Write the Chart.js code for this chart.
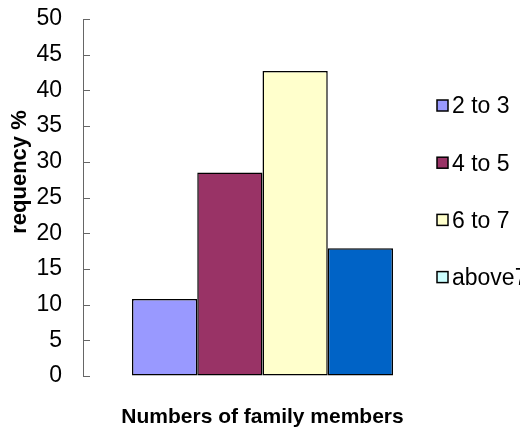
<!DOCTYPE html>
<html>
<head>
<meta charset="utf-8">
<script src="https://cdn.jsdelivr.net/npm/chart.js@4/dist/chart.umd.min.js"></script>
<style>
  html, body { margin: 0; padding: 0; background: #fff; }
  #wrap { width: 520px; height: 430px; }
</style>
</head>
<body>
<div id="wrap"><canvas id="famChart" width="520" height="430"></canvas></div>
<script>
// family size groups and their share of households (%)
const groups = ['2 to 3', '4 to 5', '6 to 7', 'above7'];
const frequency = [10.8, 28.5, 42.7, 17.9];
const barColors = ['#9999FF', '#993366', '#FFFFCC', '#0063C6'];
const keyColors = ['#9999FF', '#993366', '#FFFFCC', '#CCFFFF'];
const yMin = 0, yMax = 50, yStep = 5;
const yTitle = 'requency %';
const xTitle = 'Numbers of family members';

const FONT = '"Liberation Sans", Arial, sans-serif';

// short tick marks pointing into the plot, right of the axis line
const innerTicks = {
    id: 'innerTicks',
    afterDraw(chart) {
        const y = chart.scales.y;
        const ctx = chart.ctx;
        ctx.save();
        ctx.strokeStyle = '#666';
        ctx.lineWidth = 1;
        y.ticks.forEach((t, i) => {
            const py = Math.round(y.getPixelForTick(i)) + 0.5;
            ctx.beginPath();
            ctx.moveTo(y.right, py);
            ctx.lineTo(y.right + 7, py);
            ctx.stroke();
        });
        ctx.restore();
    }
};

// rotated y title, sitting a bit above the middle of the axis
const sideTitle = {
    id: 'sideTitle',
    afterDraw(chart) {
        const ctx = chart.ctx;
        ctx.save();
        ctx.translate(20, 172);
        ctx.rotate(-Math.PI / 2);
        ctx.font = 'bold 22px ' + FONT;
        ctx.fillStyle = '#000';
        ctx.textAlign = 'center';
        ctx.textBaseline = 'middle';
        ctx.fillText(yTitle, 0, 0);
        ctx.restore();
    }
};

// key on the right: small bordered squares + group names
const sideKey = {
    id: 'sideKey',
    afterDraw(chart) {
        const ctx = chart.ctx;
        const x0 = chart.chartArea.right - 5;
        ctx.save();
        ctx.font = '23px ' + FONT;
        ctx.textBaseline = 'middle';
        groups.forEach((g, i) => {
            const cy = 106 + i * 57.2;
            ctx.fillStyle = keyColors[i];
            ctx.fillRect(x0, cy - 6, 11, 11);
            ctx.strokeStyle = '#000';
            ctx.lineWidth = 1.5;
            ctx.strokeRect(x0, cy - 6, 11, 11);
            ctx.fillStyle = '#000';
            ctx.fillText(g, x0 + 15, cy + 1);
        });
        ctx.restore();
    }
};

const datasets = groups.map((g, i) => ({
    label: g,
    data: [frequency[i]],
    backgroundColor: barColors[i],
    borderColor: '#000',
    borderWidth: 1.5,
    borderSkipped: false,
    categoryPercentage: 0.727,
    barPercentage: 1
}));

new Chart(document.getElementById('famChart'), {
    type: 'bar',
    data: { labels: [''], datasets: datasets },
    options: {
        responsive: false,
        animation: false,
        layout: { padding: { top: 19, right: 78, bottom: 0, left: 0 } },
        plugins: {
            legend: { display: false },
            tooltip: { enabled: false }
        },
        scales: {
            x: {
                grid: { display: false },
                border: { display: false },
                ticks: { display: false },
                title: {
                    display: true,
                    text: xTitle,
                    color: '#000',
                    font: { family: FONT, size: 21, weight: 'bold' },
                    padding: { top: 0, bottom: 0 }
                },
                afterFit(scale) { scale.height = 54; }
            },
            y: {
                min: yMin,
                max: yMax,
                grid: { drawOnChartArea: false, drawTicks: false },
                border: { display: true, color: '#666', width: 1 },
                ticks: {
                    stepSize: yStep,
                    padding: 21,
                    color: '#000',
                    font: { family: FONT, size: 23 }
                },
                afterFit(scale) {
                    scale.width = 83;
                    scale.paddingTop = 0;
                    scale.paddingBottom = 0;
                }
            }
        }
    },
    plugins: [innerTicks, sideTitle, sideKey]
});
</script>
</body>
</html>
